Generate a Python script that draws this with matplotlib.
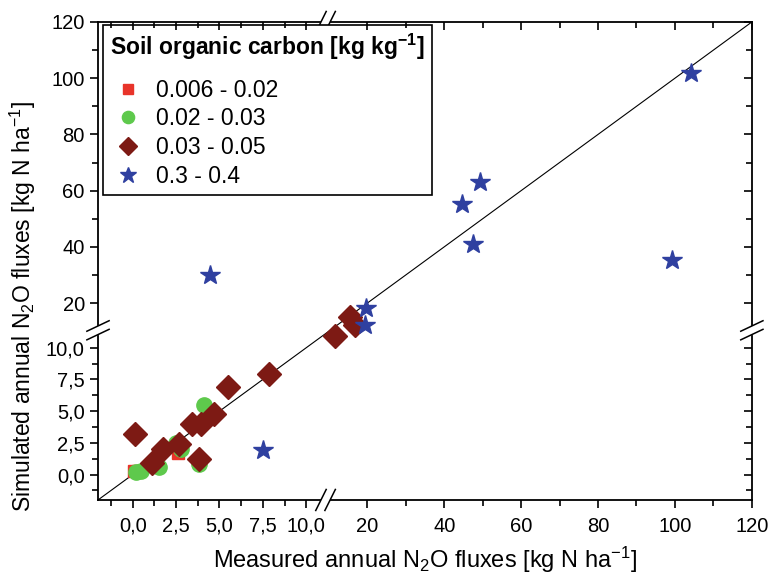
import numpy as np
import matplotlib
matplotlib.use("Agg")
import matplotlib.pyplot as plt
from matplotlib.ticker import FixedLocator, FixedFormatter

plt.rcParams["font.family"] = ["Liberation Sans", "DejaVu Sans"]
plt.rcParams["mathtext.fontset"] = "custom"
plt.rcParams["mathtext.rm"] = "Liberation Sans"
plt.rcParams["mathtext.bf"] = "Liberation Sans:bold"
plt.rcParams["mathtext.default"] = "regular"

# measured (x) / simulated (y) annual N2O fluxes, per SOC class
labels = ["0.006 - 0.02", "0.02 - 0.03", "0.03 - 0.05", "0.3 - 0.4"]

sq_x = [0.05, 0.3, 2.6]
sq_y = [0.3, 0.25, 1.7]

circ_x = [0.2, 0.5, 1.5, 2.5, 2.8, 4.1, 3.8]
circ_y = [0.2, 0.25, 0.6, 2.5, 2.0, 5.5, 0.8]

dia_x = [0.15, 1.1, 1.75, 2.65, 3.4, 3.95, 4.7, 5.5, 7.85, 3.8, 11.6, 15.4, 16.8]
dia_y = [3.2, 0.9, 2.0, 2.45, 4.0, 3.95, 4.75, 6.9, 7.9, 1.2, 10.9, 15.1, 12.1]

star_x = [7.5, 4.45, 19.4, 19.6, 44.5, 47.5, 49.2, 99.2, 104.2]
star_y = [1.9, 29.9, 12.1, 18.1, 55.2, 41.2, 63.1, 35.3, 101.9]

# broken axis: [-2, 11.3] on the lower 35.3 %, [10, 120] on the rest
LO, HI_LO, LO_HI, HI, FRAC = -2.0, 11.3, 10.0, 120.0, 0.353


def fwd(v):
    v = np.asarray(v, float)
    return np.where(v <= HI_LO, (v - LO) / (HI_LO - LO) * FRAC,
                    FRAC + (v - LO_HI) / (HI - LO_HI) * (1 - FRAC))


def inv(u):
    u = np.asarray(u, float)
    return np.where(u <= FRAC, LO + u / FRAC * (HI_LO - LO),
                    LO_HI + (u - FRAC) / (1 - FRAC) * (HI - LO_HI))


major = [0, 2.5, 5, 7.5, 10, 20, 40, 60, 80, 100, 120]
major_lbl = ["0,0", "2,5", "5,0", "7,5", "10,0", "20", "40", "60", "80", "100", "120"]
minor = [-1.25, 1.25, 3.75, 6.25, 8.75, 30, 50, 70, 90, 110]

fig = plt.figure(figsize=(7.68, 5.78), dpi=100)
ax = fig.add_axes([0.1276, 0.135, 0.8514, 0.827])
ax.set_xscale("function", functions=(fwd, inv))
ax.set_yscale("function", functions=(fwd, inv))
ax.set_xlim(LO, HI)
ax.set_ylim(LO, HI)

ax.plot([LO, HI_LO, HI], [LO, HI_LO, HI], color="black", lw=0.8, zorder=1)

ax.plot(sq_x, sq_y, "s", ms=9, color="#e8342a", label=labels[0], zorder=2)
ax.plot(circ_x, circ_y, "o", ms=11, color="#5ec94c", label=labels[1], zorder=3)
ax.plot(dia_x, dia_y, "D", ms=12, color="#7d1a14", label=labels[2], zorder=4)
ax.plot(star_x, star_y, "*", ms=15, color="#2f40a0", label=labels[3], zorder=5)

for axis in (ax.xaxis, ax.yaxis):
    axis.set_major_locator(FixedLocator(major))
    axis.set_major_formatter(FixedFormatter(major_lbl))
    axis.set_minor_locator(FixedLocator(minor))
ax.tick_params(which="both", direction="out", labelsize=14.5, width=1.2)
ax.tick_params(which="major", length=6)
ax.tick_params(which="minor", length=4)
ax.tick_params(axis="x", which="major", pad=6)
for s in ax.spines.values():
    s.set_linewidth(1.3)

# inward ticks on top and right
ax2 = fig.add_axes(ax.get_position(), sharex=ax, sharey=ax, facecolor="none")
ax2.tick_params(which="both", direction="in", top=True, right=True,
                bottom=False, left=False, labelbottom=False, labelleft=False, width=1.2)
ax2.tick_params(which="major", length=6)
ax2.tick_params(which="minor", length=4)
for s in ax2.spines.values():
    s.set_visible(False)

# break marks on all four spines
bx = 0.348
for yy in (0, 1):
    ax.plot([bx - 0.004, bx + 0.004], [yy, yy], transform=ax.transAxes, color="white",
            lw=3, clip_on=False, zorder=10)
    for d in (-0.007, 0.007):
        ax.plot([bx + d - 0.008, bx + d + 0.008], [yy - 0.022, yy + 0.022],
                transform=ax.transAxes, color="black", lw=1.1, clip_on=False, zorder=11)
by = 0.355
for xx in (0, 1):
    ax.plot([xx, xx], [by - 0.005, by + 0.005], transform=ax.transAxes, color="white",
            lw=3, clip_on=False, zorder=10)
    for d in (-0.009, 0.009):
        ax.plot([xx - 0.017, xx + 0.017], [by + d - 0.011, by + d + 0.011],
                transform=ax.transAxes, color="black", lw=1.1, clip_on=False, zorder=11)

ax.set_xlabel(r"Measured annual N$_2$O fluxes [kg N ha$^{-1}$]", fontsize=17)
ax.xaxis.set_label_coords(0.5, -0.093)
ax.set_ylabel(r"Simulated annual N$_2$O fluxes [kg N ha$^{-1}$]", fontsize=16.5)
ax.yaxis.set_label_coords(-0.092, 0.405)

leg = ax.legend(loc="upper left", bbox_to_anchor=(0.008, 0.994), fontsize=16.5,
                title=r"Soil organic carbon [kg kg$^{\mathbf{-1}}$]",
                title_fontproperties={"weight": "bold", "size": 16.5},
                frameon=True, fancybox=False, edgecolor="black", framealpha=1,
                borderpad=0.3, labelspacing=0.25, handletextpad=0.4, handlelength=1.6,
                markerscale=0.8, borderaxespad=0)
leg.get_frame().set_linewidth(1.2)
leg._legend_box.align = "left"
leg._legend_box.sep = 12
leg.set_zorder(20)

fig.savefig("out.png", dpi=100)
